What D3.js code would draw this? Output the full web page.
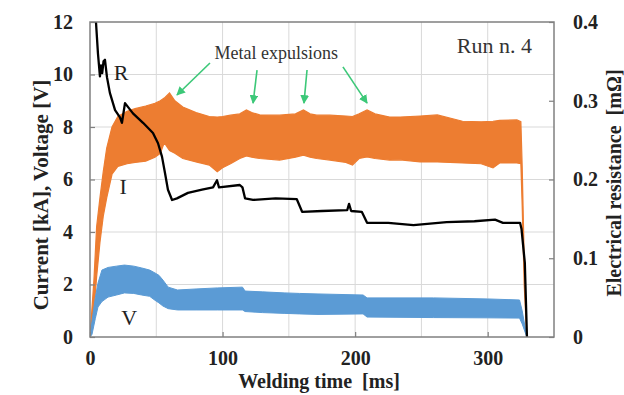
<!DOCTYPE html>
<html>
<head>
<meta charset="utf-8">
<script src="https://cdn.jsdelivr.net/npm/d3@7"></script>
<style>
  html, body { margin: 0; padding: 0; background: #fff; }
  svg { display: block; }
  text { font-family: "Liberation Serif", "Times New Roman", serif; }
</style>
</head>
<body>
<svg id="chart" width="624" height="395"></svg>
<script>
// ---- Data ----
const xTicks = [0, 100, 200, 300];
const yLeftTicks = [0, 2, 4, 6, 8, 10, 12];
const yRightTicks = [0, 0.1, 0.2, 0.3, 0.4];
const rightTickLabels = ["0", "0.1", "0.2", "0.3", "0.4"];

// Current I [kA] envelope (band)
const iTime  = [0, 3, 5, 7.5, 10, 12.6, 16.6, 21, 28, 34, 42, 49, 53, 56, 60, 64, 70, 80, 90, 96, 100, 106, 113, 118, 122, 128, 143, 155, 161, 166, 171, 181, 193, 198, 203, 209, 215, 226, 234, 249, 262, 281, 295, 304, 309, 322, 325, 326, 327.5, 329.5];
const iUpper = [0, 2.2, 4.2, 5.3, 6.3, 7.2, 8.0, 8.4, 8.6, 8.7, 8.8, 8.9, 9.0, 9.1, 9.3, 9.0, 8.76, 8.55, 8.4, 8.38, 8.4, 8.45, 8.5, 8.65, 8.55, 8.46, 8.45, 8.5, 8.65, 8.5, 8.45, 8.45, 8.42, 8.4, 8.5, 8.65, 8.5, 8.38, 8.38, 8.42, 8.46, 8.22, 8.2, 8.22, 8.25, 8.27, 8.2, 6.5, 3.0, 0];
const iLower = [0, 1.0, 2.3, 3.6, 4.6, 5.3, 6.2, 6.5, 6.6, 6.65, 6.7, 6.85, 7.0, 7.4, 7.1, 7.0, 6.8, 6.67, 6.55, 6.3, 6.45, 6.6, 6.8, 6.9, 6.85, 6.8, 6.74, 6.85, 6.93, 6.85, 6.8, 6.74, 6.65, 6.55, 6.8, 6.86, 6.8, 6.74, 6.75, 6.67, 6.67, 6.63, 6.6, 6.44, 6.63, 6.63, 6.6, 5.0, 2.0, 0];

// Voltage V [V] envelope (band)
const vTime  = [0, 1.5, 4, 6, 9, 13.6, 20, 26, 33, 39, 45, 49, 52, 55, 59, 66, 80, 96, 115, 117, 130, 147, 158, 172, 206, 209, 259, 300, 324, 326, 329.5];
const vUpper = [0, 0.6, 1.5, 2.05, 2.55, 2.65, 2.7, 2.74, 2.7, 2.63, 2.55, 2.44, 2.35, 2.17, 1.9, 1.79, 1.83, 1.87, 1.9, 1.75, 1.72, 1.68, 1.66, 1.64, 1.6, 1.49, 1.49, 1.45, 1.41, 1.0, 0];
const vLower = [0, 0.1, 0.7, 1.14, 1.35, 1.52, 1.6, 1.68, 1.66, 1.6, 1.55, 1.4, 1.3, 1.18, 1.08, 1.03, 1.03, 1.03, 1.03, 0.97, 0.93, 0.9, 0.88, 0.86, 0.88, 0.76, 0.74, 0.73, 0.72, 0.5, 0];

// Electrical resistance R [mOhm]
const rTime  = [4.5, 6, 7.5, 8.3, 9.2, 10.2, 11.3, 12.8, 15, 18.9, 22.6, 24.1, 26.4, 32.4, 40, 47.5, 51.3, 54.3, 56.6, 58.8, 61.9, 65.6, 73.9, 84.5, 92.8, 95.8, 97.3, 113, 115, 117, 123, 140, 156, 160, 175, 194, 195.4, 197, 205, 209, 225, 244, 269, 290, 305.5, 311.5, 324.4, 325.5, 328, 329.6];
const rValue = [0.4, 0.36, 0.331, 0.345, 0.335, 0.35, 0.352, 0.33, 0.31, 0.288, 0.279, 0.272, 0.297, 0.284, 0.272, 0.259, 0.246, 0.229, 0.208, 0.187, 0.174, 0.176, 0.183, 0.187, 0.19, 0.199, 0.19, 0.193, 0.19, 0.176, 0.174, 0.176, 0.175, 0.159, 0.16, 0.161, 0.169, 0.16, 0.159, 0.145, 0.145, 0.142, 0.146, 0.147, 0.149, 0.145, 0.145, 0.137, 0.094, 0];

// Annotation arrows: [tailT, tailV, tipT, tipV] in data units (left axis)
const arrowTailT = [90.5, 126, 163.7, 190.8];
const arrowTailV = [10.44, 10.17, 10.17, 10.29];
const arrowTipT  = [65.6, 123, 161.4, 209];
const arrowTipV  = [9.22, 8.91, 8.91, 8.91];

// ---- Layout ----
const svg = d3.select("#chart");
const margin = { left: 90, right: 70, top: 22, bottom: 58 };
const W = 624, H = 395;
const x0 = margin.left, x1 = W - margin.right; // 90 .. 554
const y0 = H - margin.bottom, y1 = margin.top;  // 337 .. 22

const x = d3.scaleLinear().domain([0, 350]).range([x0, x1]);
const yL = d3.scaleLinear().domain([0, 12]).range([y0, y1]);
const yR = d3.scaleLinear().domain([0, 0.4]).range([y0, y1]);

const gridColor = "#d9d9d9";
const frameColor = "#808080";
const textColor = "#222";

// Grid
const grid = svg.append("g");
grid.selectAll("line.vg").data(d3.range(50, 350, 50)).join("line")
  .attr("x1", d => x(d)).attr("x2", d => x(d))
  .attr("y1", y1).attr("y2", y0)
  .attr("stroke", gridColor).attr("stroke-width", 1);
grid.selectAll("line.hg").data(d3.range(2, 12, 2)).join("line")
  .attr("x1", x0).attr("x2", x1)
  .attr("y1", d => yL(d)).attr("y2", d => yL(d))
  .attr("stroke", gridColor).attr("stroke-width", 1);

// Clip
svg.append("clipPath").attr("id", "plotclip").append("rect")
  .attr("x", x0).attr("y", y1).attr("width", x1 - x0).attr("height", y0 - y1);

const plot = svg.append("g").attr("clip-path", "url(#plotclip)");

// Current band
const iData = iTime.map((t, k) => ({ t, u: iUpper[k], l: iLower[k] }));
plot.append("path").datum(iData)
  .attr("d", d3.area().x(d => x(d.t)).y0(d => yL(d.l)).y1(d => yL(d.u)))
  .attr("fill", "#ED7D31").attr("stroke", "#ED7D31").attr("stroke-width", 1.2);

// Voltage band
const vData = vTime.map((t, k) => ({ t, u: vUpper[k], l: vLower[k] }));
plot.append("path").datum(vData)
  .attr("d", d3.area().x(d => x(d.t)).y0(d => yL(d.l)).y1(d => yL(d.u)))
  .attr("fill", "#5B9BD5").attr("stroke", "#5B9BD5").attr("stroke-width", 1);

// Resistance line
const rData = rTime.map((t, k) => ({ t, r: rValue[k] }));
plot.append("path").datum(rData)
  .attr("d", d3.line().x(d => x(d.t)).y(d => yR(d.r)))
  .attr("fill", "none").attr("stroke", "#000").attr("stroke-width", 2.3)
  .attr("stroke-linejoin", "round");

// Frame
svg.append("rect").attr("x", x0).attr("y", y1).attr("width", x1 - x0).attr("height", y0 - y1)
  .attr("fill", "none").attr("stroke", frameColor).attr("stroke-width", 1.5);

// Axes (ticks inward)
const fontTick = 'bold 20px "Liberation Serif", serif';
const axB = svg.append("g").attr("transform", `translate(0,${y0})`)
  .call(d3.axisBottom(x).tickValues(xTicks).tickSizeInner(-5).tickSizeOuter(0).tickPadding(14).tickFormat(d3.format("d")));
const axL = svg.append("g").attr("transform", `translate(${x0},0)`)
  .call(d3.axisLeft(yL).tickValues(yLeftTicks).tickSizeInner(-5).tickSizeOuter(0).tickPadding(17).tickFormat(d3.format("d")));
const axR = svg.append("g").attr("transform", `translate(${x1},0)`)
  .call(d3.axisRight(yR).tickValues(yRightTicks).tickSizeInner(-5).tickSizeOuter(0).tickPadding(19).tickFormat((d, k) => rightTickLabels[k]));
[axB, axL, axR].forEach(g => {
  g.select(".domain").remove();
  g.selectAll(".tick line").attr("stroke", frameColor).attr("stroke-width", 1.2);
  g.selectAll(".tick text").style("font", fontTick).attr("fill", textColor);
});

// Axis titles
svg.append("text").attr("x", (x(0) + x(350)) / 2 - 3).attr("y", 388)
  .attr("text-anchor", "middle").style("font", 'bold 20px "Liberation Serif", serif').attr("fill", textColor)
  .text("Welding time\u00a0\u00a0[ms]");
svg.append("text").attr("transform", "translate(48,195) rotate(-90)")
  .attr("text-anchor", "middle").style("font", 'bold 21px "Liberation Serif", serif').attr("fill", textColor)
  .text("Current [kA], Voltage [V]");
svg.append("text").attr("transform", "translate(621,183) rotate(-90)")
  .attr("text-anchor", "middle").style("font", 'bold 20px "Liberation Serif", serif').attr("fill", textColor)
  .text("Electrical resistance\u00a0\u00a0[mΩ]");

// Series labels
const lblFont = '22px "Liberation Serif", serif';
svg.append("text").attr("x", x(18)).attr("y", yL(9.8)).style("font", lblFont).attr("fill", textColor).text("R");
svg.append("text").attr("x", x(25)).attr("y", yL(5.45)).attr("text-anchor", "middle").style("font", lblFont).attr("fill", textColor).text("I");
svg.append("text").attr("x", x(23.5)).attr("y", yL(0.45)).style("font", lblFont).attr("fill", textColor).text("V");

// Run label
svg.append("text").attr("x", 532).attr("y", 53).attr("text-anchor", "end")
  .style("font", '22px "Liberation Serif", serif').attr("fill", "#333").text("Run n. 4");

// Metal expulsions annotation
svg.append("text").attr("x", x(140.5)).attr("y", yL(10.6)).attr("text-anchor", "middle")
  .style("font", '18px "Liberation Serif", serif').attr("fill", "#333").text("Metal expulsions");

const green = "#3cc878";
const defs = svg.append("defs");
defs.append("marker").attr("id", "ah").attr("viewBox", "0 0 10 10")
  .attr("refX", 9).attr("refY", 5).attr("markerWidth", 5.5).attr("markerHeight", 5.5)
  .attr("markerUnits", "strokeWidth").attr("orient", "auto")
  .append("path").attr("d", "M0,0 L10,5 L0,10 z").attr("fill", green);

svg.append("g").selectAll("line").data(arrowTipT).join("line")
  .attr("x1", (d, k) => x(arrowTailT[k])).attr("y1", (d, k) => yL(arrowTailV[k]))
  .attr("x2", (d, k) => x(arrowTipT[k])).attr("y2", (d, k) => yL(arrowTipV[k]))
  .attr("stroke", green).attr("stroke-width", 1.6).attr("marker-end", "url(#ah)");
</script>
</body>
</html>
